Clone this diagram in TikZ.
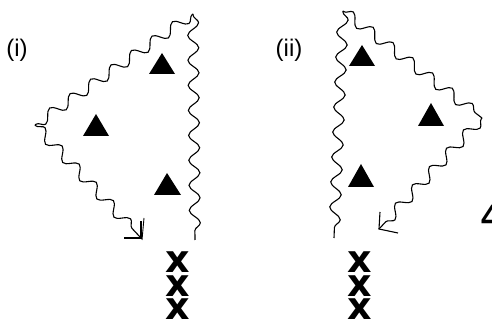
\documentclass[tikz,border=0pt]{standalone}
\usepackage{fontspec}
\setmainfont{Liberation Sans}
\newfontfamily\heavyfont{DejaVu Sans}
\usetikzlibrary{decorations.pathmorphing}
\begin{document}
\begin{tikzpicture}[x=1pt,y=-1pt,
  wavy/.style={draw,line width=1.1pt,decorate,decoration={snake,segment length=25pt,amplitude=5.5pt,pre length=1pt,post length=1pt}},
  head/.style={draw,line width=1.1pt},
  tri/.style={fill=black},
  lab/.style={font=\fontsize{24}{24}\selectfont,inner sep=0pt},
  ext/.style={font=\heavyfont\fontsize{38}{38}\selectfont\bfseries,inner sep=0pt},
  partial/.style={font=\fontsize{34}{34}\selectfont\bfseries,inner sep=0pt,anchor=west}]
\useasboundingbox (0,0) rectangle (492,320);
% panel (i)
\node[lab] (li) at (17,50) {(i)};
\coordinate (A) at (193,14);
\coordinate (B) at (35,125);
\coordinate (C) at (195,240);
\coordinate (T) at (141,238);
\draw[wavy] (A) -- (C);
\draw[wavy] (A) -- (B);
\draw[wavy] (B) -- (T);
\draw[head] ([xshift=-17pt]T) -- (T) -- ([yshift=17pt]T);
\draw[head,line width=0.9pt] ([xshift=3pt,yshift=20pt]T) -- ([xshift=1pt,yshift=-2pt]T);
\fill[tri] (162,53) -- (175,74) -- (149,74) -- cycle;
\fill[tri] (96,114) -- (109,136) -- (83,136) -- cycle;
\fill[tri] (167,173) -- (181,195) -- (154,195) -- cycle;
\node[ext] (x1) at (178,262) {x};
\node[ext] (x2) at (178,286) {x};
\node[ext] (x3) at (178,309) {x};
% panel (ii)
\node[lab] (lii) at (289,50) {(ii)};
\coordinate (D) at (343,11);
\coordinate (E) at (334,238);
\coordinate (F) at (482,118);
\coordinate (U) at (379,229);
\draw[wavy] (D) -- (E);
\draw[wavy] (D) -- (F);
\draw[wavy] (F) -- (U);
\draw[head] ([xshift=1pt,yshift=17pt]U) -- (U) -- ([xshift=19pt,yshift=-4pt]U);
\fill[tri] (362,45) -- (375,66) -- (349,66) -- cycle;
\fill[tri] (431,103) -- (444,126) -- (418,126) -- cycle;
\fill[tri] (361,164) -- (374,187) -- (348,187) -- cycle;
\node[ext] (y1) at (360,262) {x};
\node[ext] (y2) at (360,286) {x};
\node[ext] (y3) at (360,309) {x};
\node[partial] (four) at (481,217) {4};
\end{tikzpicture}
\end{document}
